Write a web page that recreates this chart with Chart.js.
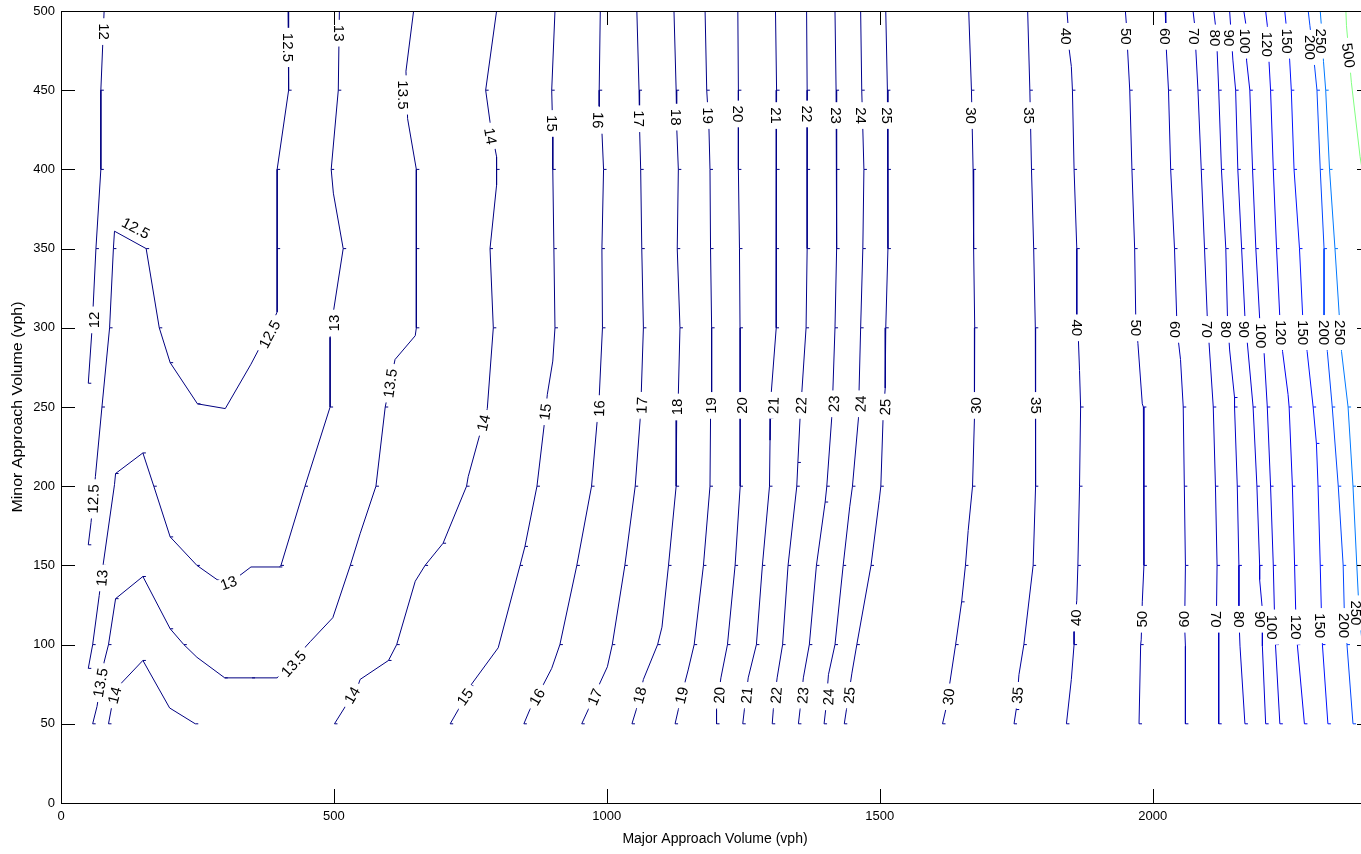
<!DOCTYPE html>
<html>
<head>
<meta charset="utf-8">
<script src="https://cdn.jsdelivr.net/npm/chart.js@4"></script>
<style>
  html, body { margin: 0; padding: 0; background: #fff; overflow: hidden; }
  #wrap { width: 1380px; height: 854px; }
</style>
</head>
<body>
<div id="wrap"><canvas id="contour" width="1380" height="854"></canvas></div>
<script>
// -----------------------------
// DATA (major vph, minor vph) per contour level
// -----------------------------
const c12 = [[79,500],[73,450],[73,400],[64,350],[57,300],[50,265]];
const c12_5 = [[416,500],[417,450],[396,400],[396,350],[396,310],[383,300],[348,277],[301,249],[250,252],[200,278],[180,300],[156,350],[98,361],[96,350],[89,300],[75,250],[63,206],[55,177],[50,163]];
const c13 = [[510,500],[508,450],[495,400],[499,385],[517,350],[499,310],[493,294],[493,250],[447,200],[403,150],[400,149],[348,149],[325,143],[307,139],[286,141],[249,150],[200,168],[170,200],[150,221],[100,208],[98,201],[77,150],[70,131],[58,100],[50,85]];
const c13_5 = [[646,500],[632,462],[635,432],[651,400],[651,350],[651,300],[649,295],[612,280],[594,250],[577,200],[548,170],[530,150],[498,117],[457,102],[396,79],[350,79],[300,79],[249,92],[225,100],[200,110],[150,143],[100,129],[87,100],[79,89],[66,61],[58,50]];
const c14 = [[798,500],[778,450],[786,430],[798,408],[798,400],[798,390],[786,350],[792,300],[781,249],[766,231],[746,206],[743,200],[700,164],[667,150],[649,140],[615,100],[600,90],[548,78],[545,75],[521,61],[501,50]];
const c14b = [[87,50],[93,61],[106,74],[150,90],[199,60],[246,50]];
const c15 = [[905,500],[899,450],[901,422],[901,400],[903,350],[905,300],[901,279],[891,258],[885,238],[872,200],[850,162],[841,150],[801,98],[750,74],[728,59],[713,50]];
const c16 = [[988,500],[986,450],[986,440],[991,424],[994,400],[991,350],[992,300],[986,256],[982,240],[972,200],[945,150],[914,100],[899,85],[884,75],[859,59],[848,50]];
const c17 = [[1055,500],[1059,450],[1060,426],[1062,400],[1064,350],[1067,300],[1063,258],[1061,242],[1052,200],[1033,150],[1010,100],[1001,86],[985,74],[966,59],[954,50]];
const c18 = [[1123,500],[1127,450],[1128,427],[1131,400],[1129,350],[1134,300],[1131,258],[1128,242],[1127,200],[1113,150],[1101,111],[1093,100],[1067,78],[1054,59],[1046,50]];
const c19 = [[1180,500],[1183,450],[1187,427],[1189,400],[1190,350],[1192,300],[1192,259],[1190,243],[1189,200],[1177,150],[1160,100],[1149,84],[1143,76],[1131,59],[1125,50]];
const c20 = [[1240,500],[1241,450],[1241,400],[1243,350],[1244,300],[1244,259],[1245,243],[1244,200],[1235,150],[1221,100],[1209,79],[1201,59],[1201,50]];
const c21 = [[1309,500],[1311,450],[1311,400],[1310,350],[1310,300],[1301,258],[1300,243],[1299,229],[1298,200],[1285,150],[1274,100],[1259,79],[1252,59],[1249,50]];
const c22 = [[1366,500],[1367,450],[1367,400],[1367,350],[1365,300],[1357,258],[1354,243],[1350,215],[1348,200],[1332,150],[1322,100],[1312,79],[1305,59],[1303,50]];
const c23 = [[1418,500],[1420,450],[1421,400],[1421,350],[1418,300],[1414,259],[1412,243],[1403,200],[1400,190],[1384,150],[1371,100],[1360,79],[1354,59],[1351,50]];
const c24 = [[1465,500],[1467,450],[1471,400],[1469,350],[1465,300],[1462,259],[1461,243],[1450,200],[1445,187],[1433,150],[1418,100],[1406,81],[1401,59],[1398,50]];
const c25 = [[1511,500],[1514,450],[1515,400],[1515,350],[1511,300],[1510,262],[1506,242],[1502,200],[1499,191],[1484,150],[1458,100],[1449,82],[1439,59],[1435,50]];
const c30 = [[1663,500],[1668,450],[1671,400],[1672,350],[1674,300],[1674,258],[1673,243],[1670,200],[1662,172],[1657,150],[1650,127],[1639,100],[1621,59],[1615,50]];
const c35 = [[1771,500],[1775,450],[1778,400],[1782,350],[1785,300],[1786,259],[1785,200],[1781,150],[1764,100],[1755,81],[1750,59],[1746,50]];
const c40 = [[1843,500],[1845,491],[1847,476],[1851,465],[1853,450],[1856,400],[1861,350],[1861,307],[1864,292],[1866,273],[1868,250],[1866,200],[1863,150],[1861,128],[1856,108],[1856,100],[1851,78],[1842,50]];
const c50 = [[1950,500],[1952,491],[1954,476],[1958,450],[1962,400],[1967,350],[1969,307],[1973,290],[1981,252],[1983,250],[1984,200],[1984,150],[1981,127],[1979,103],[1978,100],[1975,50]];
const c60 = [[2023,500],[2024,491],[2025,476],[2029,450],[2033,400],[2040,350],[2044,307],[2047,292],[2051,280],[2056,250],[2058,200],[2060,150],[2059,123],[2059,108],[2060,99],[2060,50]];
const c70 = [[2074,500],[2077,491],[2079,476],[2083,450],[2089,400],[2095,350],[2100,307],[2103,292],[2111,250],[2115,200],[2118,150],[2117,122],[2121,108],[2121,99],[2121,50]];
const c80 = [[2112,500],[2115,491],[2118,476],[2121,450],[2126,400],[2134,350],[2137,307],[2141,286],[2150,256],[2150,250],[2155,200],[2158,150],[2158,122],[2159,108],[2160,99],[2169,50]];
const c90 = [[2141,500],[2147,469],[2152,450],[2156,400],[2163,350],[2169,307],[2173,292],[2184,250],[2191,200],[2196,150],[2196,141],[2201,122],[2201,99],[2207,50]];
const c100 = [[2167,500],[2171,491],[2172,469],[2178,450],[2183,400],[2189,350],[2196,306],[2204,285],[2210,250],[2216,200],[2221,150],[2223,122],[2225,100],[2233,50]];
const c120 = [[2207,500],[2210,491],[2213,469],[2216,450],[2221,400],[2227,350],[2233,306],[2238,285],[2248,258],[2250,250],[2256,200],[2260,150],[2262,122],[2265,100],[2278,50]];
const c150 = [[2242,500],[2251,469],[2254,450],[2259,400],[2269,350],[2275,306],[2283,285],[2294,250],[2300,227],[2303,200],[2307,150],[2309,122],[2311,100],[2321,50]];
const c200 = [[2285,500],[2288,491],[2297,464],[2301,450],[2307,400],[2314,350],[2314,306],[2320,285],[2329,250],[2340,200],[2349,150],[2351,122],[2356,100],[2367,50]];
const c250 = [[2307,500],[2309,491],[2313,468],[2317,450],[2324,400],[2334,350],[2342,307],[2346,285],[2358,250],[2367,200],[2374,150],[2378,122],[2384,100],[2394,50]];
const c500 = [[2354,500],[2355,491],[2364,455],[2380,408],[2400,365]];

// level, path
const contourLines = [
    [12, c12], [12.5, c12_5], [13, c13], [13.5, c13_5], [14, c14], [14, c14b],
    [15, c15], [16, c16], [17, c17], [18, c18], [19, c19], [20, c20],
    [21, c21], [22, c22], [23, c23], [24, c24], [25, c25], [30, c30], [35, c35],
    [40, c40], [50, c50], [60, c60], [70, c70], [80, c80], [90, c90],
    [100, c100], [120, c120], [150, c150], [200, c200], [250, c250], [500, c500]
];

// inline labels: text, major, minor, rotation (deg)
const contourLabels = [
    ["12", 79, 487, 90], ["12", 60, 305, -90],
    ["12.5", 416, 477, 90], ["12.5", 382, 296, -62], ["12.5", 137, 363, 28], ["12.5", 59, 192, -88],
    ["13", 510, 486, 90], ["13", 499, 303, -90], ["13", 307, 139, -20], ["13", 75, 142, -85],
    ["13.5", 627, 447, 90], ["13.5", 603, 265, -82], ["13.5", 426, 88, -48], ["13.5", 72, 76, -80],
    ["14", 787, 421, 80], ["14", 774, 240, -77], ["14", 533, 68, -60], ["14", 98, 68, -75],
    ["15", 899, 429, 90], ["15", 887, 247, -83], ["15", 740, 67, -55],
    ["16", 984, 431, 92], ["16", 986, 249, -88], ["16", 872, 67, -60],
    ["17", 1059, 432, 90], ["17", 1064, 251, -88], ["17", 978, 67, -67],
    ["18", 1127, 433, 90], ["18", 1129, 250, -90], ["18", 1060, 68, -75],
    ["19", 1186, 434, 90], ["19", 1191, 251, -90], ["19", 1137, 68, -76],
    ["20", 1241, 435, 90], ["20", 1247, 251, -90], ["20", 1206, 68, -88],
    ["21", 1311, 434, 90], ["21", 1305, 251, -88], ["21", 1256, 68, -85],
    ["22", 1367, 435, 90], ["22", 1356, 251, -88], ["22", 1310, 68, -85],
    ["23", 1420, 434, 90], ["23", 1416, 252, -88], ["23", 1359, 68, -86],
    ["24", 1465, 434, 90], ["24", 1465, 252, -88], ["24", 1406, 67, -88],
    ["25", 1514, 434, 90], ["25", 1510, 250, -88], ["25", 1444, 68, -85],
    ["30", 1668, 434, 90], ["30", 1676, 251, -90], ["30", 1626, 67, -82],
    ["35", 1774, 434, 90], ["35", 1787, 251, 90], ["35", 1752, 68, -85],
    ["40", 1842, 484, 90], ["40", 1861, 300, 90], ["40", 1859, 117, -90],
    ["50", 1951, 484, 90], ["50", 1969, 300, 90], ["50", 1981, 116, -90],
    ["60", 2022, 484, 90], ["60", 2042, 299, 90], ["60", 2058, 116, -90],
    ["70", 2076, 484, 90], ["70", 2100, 299, 90], ["70", 2116, 116, 90],
    ["80", 2114, 483, 90], ["80", 2135, 299, 90], ["80", 2158, 116, 90],
    ["90", 2141, 483, 90], ["90", 2167, 299, 90], ["90", 2196, 116, 90],
    ["100", 2169, 481, 90], ["100", 2199, 295, 90], ["100", 2219, 111, 90],
    ["120", 2210, 479, 90], ["120", 2235, 297, 90], ["120", 2262, 111, 90],
    ["150", 2246, 481, 90], ["150", 2275, 297, 90], ["150", 2306, 112, 90],
    ["200", 2289, 477, 90], ["200", 2314, 297, 90], ["200", 2350, 112, 90],
    ["250", 2309, 481, 90], ["250", 2343, 297, 90], ["250", 2373, 120, 90],
    ["500", 2359, 472, 82]
];

const xTickValues = [0, 500, 1000, 1500, 2000];
const yTickValues = [0, 50, 100, 150, 200, 250, 300, 350, 400, 450, 500];

const xTitle = "Major Approach Volume (vph)";
const yTitle = "Minor Approach Volume (vph)";

// -----------------------------
// COLOURS (jet colormap, colour limits of the surface)
// -----------------------------
const CLIM = [12, 988];

function jet(v) {
    const f = (v - CLIM[0]) / (CLIM[1] - CLIM[0]);
    const c = (d) => Math.round(255 * Math.max(0, Math.min(1, 1.5 - Math.abs(4 * f - d))));
    return "rgb(" + c(3) + "," + c(2) + "," + c(1) + ")";
}

// grid crossings get the little vertex tick, like the original plot
function onGrid(p) {
    return p && (p.x % 50 === 0 || p.y % 50 === 0);
}

const datasets = contourLines.map(([level, pts]) => ({
    label: String(level),
    data: pts.map(([x, y]) => ({ x, y })),
    showLine: true,
    borderColor: jet(level),
    borderWidth: 1,
    pointStyle: "dash",
    pointRadius: (ctx) => (onGrid(ctx.raw) ? 3 : 0),
    pointBorderColor: jet(level),
    pointBorderWidth: 1,
    tension: 0,
    fill: false
}));

const FONT = "'Liberation Sans', Arial, sans-serif";

// -----------------------------
// PLUGINS
// -----------------------------
const inlineLabels = {
    id: "inlineLabels",
    afterDatasetsDraw(chart) {
        const { ctx, scales: { x, y } } = chart;
        ctx.save();
        ctx.font = "15px " + FONT;
        ctx.textAlign = "center";
        ctx.textBaseline = "middle";
        contourLabels.forEach(([t, vx, vy, a]) => {
            const px = x.getPixelForValue(vx);
            const py = y.getPixelForValue(vy);
            const w = ctx.measureText(t).width;
            ctx.save();
            ctx.translate(px, py);
            ctx.rotate(a * Math.PI / 180);
            ctx.fillStyle = "#fff";
            ctx.fillRect(-w / 2 - 5, -6, w + 10, 12);
            ctx.fillStyle = "#000";
            ctx.fillText(t, 0, 1);
            ctx.restore();
        });
        ctx.restore();
    }
};

const matlabBox = {
    id: "matlabBox",
    afterDraw(chart) {
        const { ctx, chartArea: a, scales: { x, y } } = chart;
        const len = 14;
        ctx.save();
        ctx.strokeStyle = "#000";
        ctx.lineWidth = 1;
        ctx.strokeRect(Math.round(a.left) + 0.5, Math.round(a.top) + 0.5,
            Math.round(a.right - a.left), Math.round(a.bottom - a.top));
        ctx.beginPath();
        x.ticks.forEach((t) => {
            const px = Math.round(x.getPixelForValue(t.value)) + 0.5;
            ctx.moveTo(px, a.bottom); ctx.lineTo(px, a.bottom - len);
            ctx.moveTo(px, a.top); ctx.lineTo(px, a.top + len);
        });
        y.ticks.forEach((t) => {
            const py = Math.round(y.getPixelForValue(t.value)) + 0.5;
            ctx.moveTo(a.left, py); ctx.lineTo(a.left + len, py);
            ctx.moveTo(a.right, py); ctx.lineTo(a.right - len, py);
        });
        ctx.stroke();

        // axis titles
        ctx.fillStyle = "#000";
        ctx.font = "14px " + FONT;
        ctx.textAlign = "center";
        ctx.textBaseline = "middle";
        ctx.fillText(xTitle, (a.left + a.right) / 2 - 1, 839);
        const wy = ctx.measureText(yTitle).width;
        ctx.translate(18, (a.top + a.bottom) / 2);
        ctx.rotate(-Math.PI / 2);
        ctx.scale(211 / wy, 1);
        ctx.fillText(yTitle, 0, 0);
        ctx.restore();
    }
};

// -----------------------------
// CHART
// -----------------------------
new Chart(document.getElementById("contour").getContext("2d"), {
    type: "scatter",
    data: { datasets },
    options: {
        responsive: false,
        animation: false,
        devicePixelRatio: 1,
        layout: { padding: { top: 11, right: 9, left: 0, bottom: 0 } },
        plugins: {
            legend: { display: false },
            tooltip: { enabled: false }
        },
        scales: {
            x: {
                type: "linear",
                min: 0,
                max: 2400,
                grid: { display: false, drawTicks: false },
                border: { display: false },
                ticks: {
                    padding: 6,
                    color: "#000",
                    font: { size: 13, family: FONT },
                    maxRotation: 0,
                    autoSkip: false,
                    callback: (v) => String(v)
                },
                afterBuildTicks: (s) => { s.ticks = xTickValues.map((v) => ({ value: v })); },
                afterFit: (s) => {
                    s.height = 51;
                    s.paddingLeft = 0;
                    s.paddingRight = 0;
                }
            },
            y: {
                type: "linear",
                min: 0,
                max: 500,
                grid: { display: false, drawTicks: false },
                border: { display: false },
                ticks: {
                    padding: 6,
                    color: "#000",
                    font: { size: 13, family: FONT },
                    autoSkip: false,
                    callback: (v) => String(v)
                },
                afterBuildTicks: (s) => { s.ticks = yTickValues.map((v) => ({ value: v })); },
                afterFit: (s) => {
                    s.width = 61;
                    s.paddingTop = 0;
                    s.paddingBottom = 0;
                }
            }
        }
    },
    plugins: [inlineLabels, matlabBox]
});
</script>
</body>
</html>
